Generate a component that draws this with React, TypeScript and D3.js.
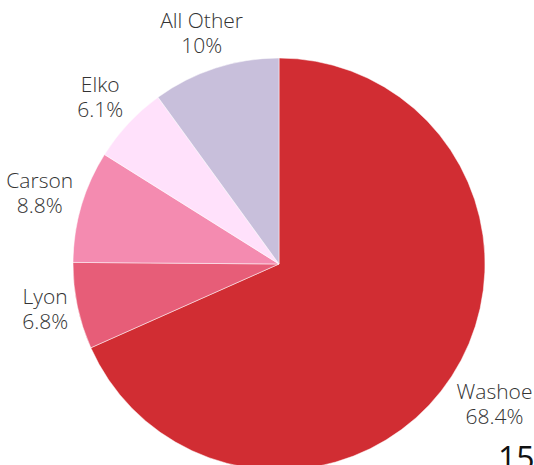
import React from "react";
import * as d3 from "d3";

const categories = ["Washoe", "Lyon", "Carson", "Elko", "All Other"];
const shares = [68.4, 6.8, 8.8, 6.1, 10];
const shareLabels = ["68.4%", "6.8%", "8.8%", "6.1%", "10%"];
const colors = ["#D12D33", "#E75D78", "#F48BB0", "#FFE1FB", "#C8BFDB"];
const pageNumber = "15";

// layout nudges for the outside labels (px), per slice
const labelNudge: [number, number][] = [[0, 10], [3, -4], [3, -4], [-2, -4], [3, -4]];

const W = 534;
const H = 465;
const cx = 279;
const cy = 264;
const radius = 206;
const labelGap = 13;
const fontSize = 21;
const lineGap = 25;
const capH = 15;

let ctx: CanvasRenderingContext2D | null = null;
function measure(t: string): number {
  if (!ctx && typeof document !== "undefined") {
    ctx = document.createElement("canvas").getContext("2d");
  }
  if (!ctx) return t.length * fontSize * 0.55;
  ctx.font = `300 ${fontSize}px 'Open Sans'`;
  return ctx.measureText(t).width;
}

export default function App() {
  const pie = d3.pie<number>().sort(null).value((d) => d)(shares);
  const arc = d3.arc<d3.PieArcDatum<number>>().innerRadius(0).outerRadius(radius);

  return (
    <svg
      width={W}
      height={H}
      style={{ position: "absolute", left: 0, top: 0, background: "#fff" }}
      fontFamily="'Open Sans', sans-serif"
    >
      <g transform={`translate(${cx},${cy})`}>
        {pie.map((p, i) => (
          <path key={i} d={arc(p) || ""} fill={colors[i]} stroke="#fff" strokeWidth={0.5} />
        ))}
        {pie.map((p, i) => {
          const mid = (p.startAngle + p.endAngle) / 2;
          const dx = Math.sin(mid);
          const dy = -Math.cos(mid);
          const w = Math.max(measure(categories[i]), measure(shareLabels[i]));
          const h = capH + lineGap;
          const R = radius + labelGap;
          const x = dx * R + (w / 2) * dx + labelNudge[i][0];
          const y = dy * R + (h / 2) * dy + labelNudge[i][1];
          const base1 = y - h / 2 + capH;
          return (
            <g key={"l" + i}>
              <text x={x} y={base1} textAnchor="middle" fontSize={fontSize} fontWeight={300} fill="#333">
                {categories[i]}
              </text>
              <text x={x} y={base1 + lineGap} textAnchor="middle" fontSize={fontSize} fontWeight={300} fill="#333">
                {shareLabels[i]}
              </text>
            </g>
          );
        })}
      </g>
      <text x={498} y={470} fontSize={32} fill="#111" fontWeight={400}>
        {pageNumber}
      </text>
    </svg>
  );
}
